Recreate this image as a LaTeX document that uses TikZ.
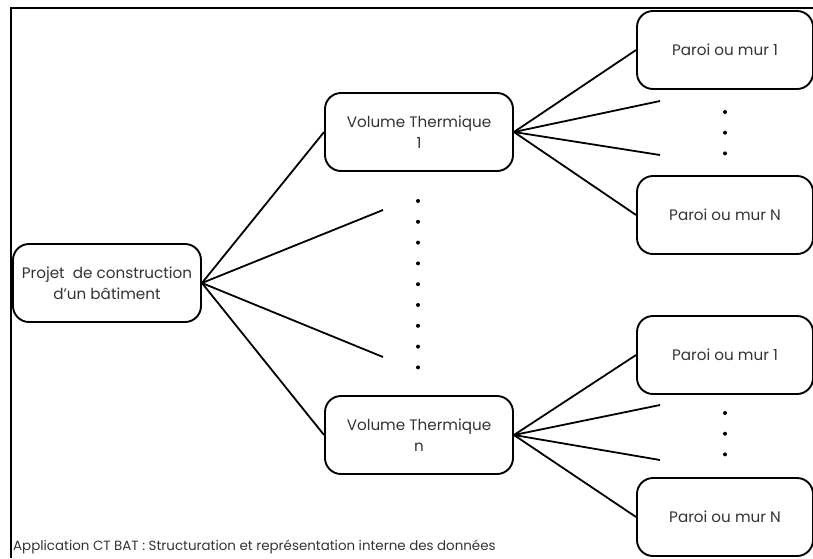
\documentclass[tikz,border=0pt]{standalone}
\usepackage{fontspec}
\setmainfont{Poppins}
\begin{document}
\begin{tikzpicture}[x=1pt,y=-1pt,
  box/.style={draw, line width=1.9pt, rounded corners=16pt, minimum width=188pt, minimum height=78pt, align=center, inner sep=0pt, text=black!80, font=\fontsize{15.2}{21}\selectfont},
  wbox/.style={box, minimum width=176pt},
  conn/.style={line width=1.8pt},
  dotm/.style={circle, fill=black, inner sep=0pt, minimum size=4pt}]
\useasboundingbox (0,0) rectangle (813,558);
\draw[line width=1.8pt] (11,558) -- (11,8) -- (813,8);
\node[box] (proj) at (107,283) {Projet\ \ de construction\\d'un bâtiment};
\node[box] (vt1) at (419,132) {Volume Thermique\\1};
\node[box] (vtn) at (419,435) {Volume Thermique\\n};
\node[wbox] (p1a) at (725,50) {Paroi ou mur 1};
\node[wbox] (pna) at (725,215) {Paroi ou mur N};
\node[wbox] (p1b) at (725,355) {Paroi ou mur 1};
\node[wbox] (pnb) at (725,517) {Paroi ou mur N};
\coordinate (ma) at (383,210);
\coordinate (mb) at (383,357);
\coordinate (ta) at (660,101);
\coordinate (tb) at (660,155);
\coordinate (ba) at (660,405);
\coordinate (bb) at (660,460);
\draw[conn] (proj.east) -- (vt1.west);
\draw[conn] (proj.east) -- (ma);
\draw[conn] (proj.east) -- (mb);
\draw[conn] (proj.east) -- (vtn.west);
\draw[conn] (vt1.east) -- (p1a.west);
\draw[conn] (vt1.east) -- (ta);
\draw[conn] (vt1.east) -- (tb);
\draw[conn] (vt1.east) -- (pna.west);
\draw[conn] (vtn.east) -- (p1b.west);
\draw[conn] (vtn.east) -- (ba);
\draw[conn] (vtn.east) -- (bb);
\draw[conn] (vtn.east) -- (pnb.west);
\foreach \i in {0,...,8} { \node[dotm] (d\i) at (418,201+20.8*\i) {}; }
\foreach \i in {0,1,2} { \node[dotm] (ea\i) at (725,112+20.7*\i) {}; }
\foreach \i in {0,1,2} { \node[dotm] (eb\i) at (725,413+20.7*\i) {}; }
\node[anchor=base west, inner sep=0pt, text=black!80, font=\fontsize{13.4}{16}\selectfont] (cap) at (13,550) {Application CT BAT : Structuration et représentation interne des données};
\end{tikzpicture}
\end{document}
